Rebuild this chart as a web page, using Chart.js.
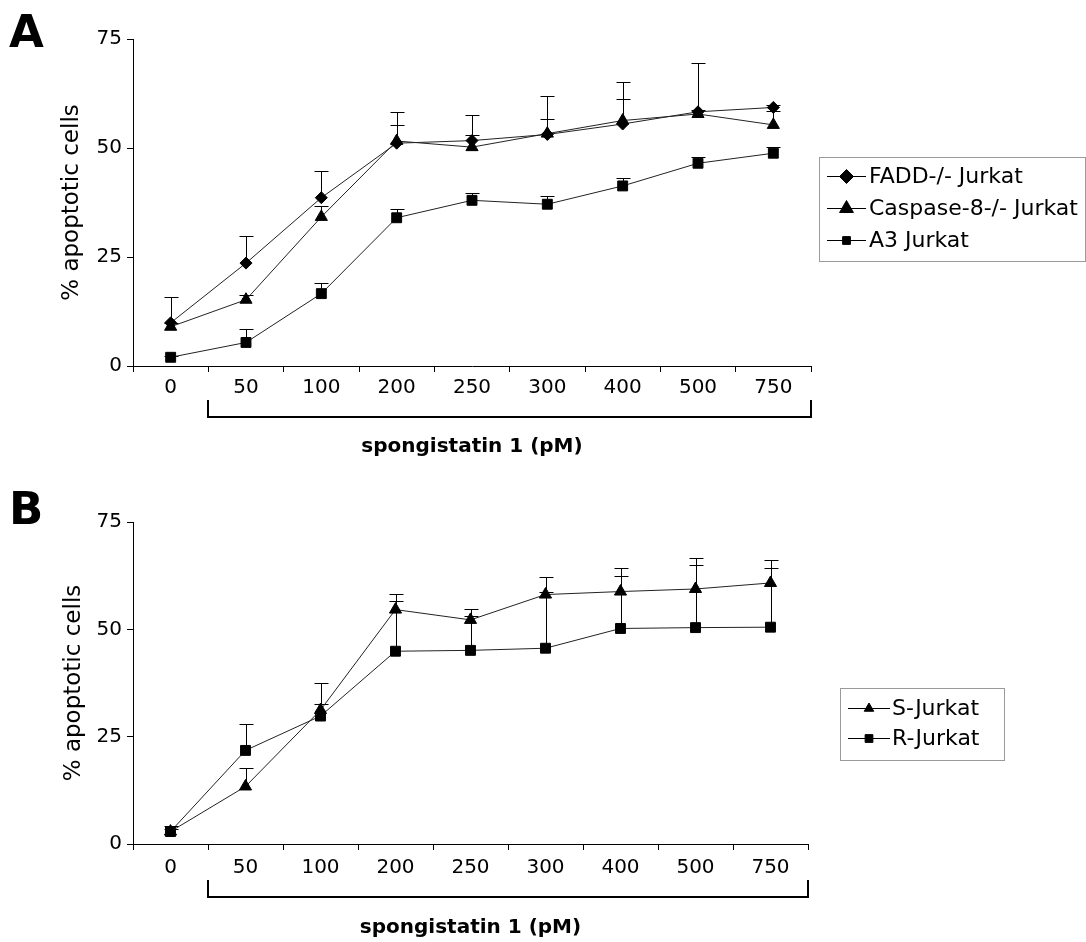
<!DOCTYPE html>
<html>
<head>
<meta charset="utf-8">
<script src="https://cdn.jsdelivr.net/npm/chart.js@4/dist/chart.umd.min.js"></script>
<style>
  body { margin: 0; background: #fff; }
  #wrap { position: relative; width: 1086px; height: 942px; overflow: hidden; }
  canvas { position: absolute; left: 0; }
  .letter { position: absolute; left: 9px; font: bold 45px "DejaVu Sans", sans-serif; color: #000; z-index: 2; }
</style>
</head>
<body>
<div id="wrap">
  <canvas id="chartA" width="1086" height="470" style="top:0"></canvas>
  <canvas id="chartB" width="1086" height="462" style="top:480px"></canvas>
  <div class="letter" style="top:5px">A</div>
  <div class="letter" style="top:482px">B</div>
</div>
<script>
const doses = ["0", "50", "100", "200", "250", "300", "400", "500", "750"];
const yTickValues = [0, 25, 50, 75];

// panel A: % apoptotic cells (mean and upper SD)
const faddMean = [9.9, 23.6, 38.6, 51.1, 51.7, 53.1, 55.5, 58.3, 59.3];
const faddErr = [5.9, 6.3, 6.1, 7.1, 5.9, 8.8, 9.7, 11.3, 0.6];
const casp8Mean = [9.0, 15.2, 34.2, 51.6, 50.2, 53.3, 56.3, 57.8, 55.3];
const casp8Err = [0.8, 1.0, 2.6, 3.6, 2.8, 3.3, 4.9, 0.9, 3.2];
const a3Mean = [2.0, 5.4, 16.6, 34.0, 38.0, 37.1, 41.3, 46.5, 48.8];
const a3Err = [0.3, 3.0, 2.5, 2.0, 1.7, 1.8, 1.8, 1.4, 1.4];

// panel B
const sMean = [2.9, 13.4, 31.2, 54.6, 52.2, 58.1, 58.8, 59.4, 60.8];
const sErr = [0.5, 4.3, 6.3, 3.7, 2.6, 4.1, 5.6, 7.1, 5.3];
const rMean = [2.9, 21.8, 29.8, 44.9, 45.1, 45.6, 50.2, 50.4, 50.5];
const rErr = [1.2, 6.2, 2.8, 11.6, 8.1, 13.2, 12.2, 14.5, 13.8];

const FONT = "'DejaVu Sans', sans-serif";
Chart.defaults.font.family = FONT;
Chart.defaults.color = "#000";

// upward error bars with a cap, drawn under the markers
const errorBars = {
  id: "errorBars",
  beforeDatasetsDraw(chart) {
    const ctx = chart.ctx;
    const y = chart.scales.y;
    ctx.save();
    ctx.strokeStyle = "#000";
    ctx.lineWidth = 1;
    chart.data.datasets.forEach((ds, i) => {
      if (!ds.errors) return;
      chart.getDatasetMeta(i).data.forEach((pt, j) => {
        const x = Math.round(pt.x) + 0.5;
        const top = Math.round(y.getPixelForValue(ds.data[j] + ds.errors[j])) + 0.5;
        ctx.beginPath();
        ctx.moveTo(x, pt.y);
        ctx.lineTo(x, top);
        ctx.moveTo(x - 7, top);
        ctx.lineTo(x + 7, top);
        ctx.stroke();
      });
    });
    ctx.restore();
  },
};

// bracket under the spongistatin doses
const doseBracket = {
  id: "doseBracket",
  afterDraw(chart, args, opts) {
    const ctx = chart.ctx;
    const x = chart.scales.x;
    const half = (x.getPixelForValue(1) - x.getPixelForValue(0)) / 2;
    const left = Math.round(x.getPixelForValue(opts.from) - half);
    const right = Math.round(chart.chartArea.right);
    const top = chart.chartArea.bottom + opts.top;
    const bottom = chart.chartArea.bottom + opts.bottom;
    ctx.save();
    ctx.strokeStyle = "#000";
    ctx.lineWidth = 2;
    ctx.beginPath();
    ctx.moveTo(left, top);
    ctx.lineTo(left, bottom);
    ctx.lineTo(right, bottom);
    ctx.lineTo(right, top);
    ctx.stroke();
    ctx.restore();
  },
};

// boxed legend with a line sample through each marker
const boxLegend = {
  id: "boxLegend",
  afterDraw(chart, args, o) {
    const ctx = chart.ctx;
    ctx.save();
    ctx.strokeStyle = "#9a9a9a";
    ctx.lineWidth = 1;
    ctx.strokeRect(o.left + 0.5, o.top + 0.5, o.width, o.height);
    ctx.font = o.fontSize + "px " + FONT;
    ctx.textBaseline = "middle";
    ctx.textAlign = "left";
    chart.data.datasets.forEach((ds, i) => {
      const cy = Math.round(o.top + o.firstRow + i * o.rowGap) + 0.5;
      ctx.strokeStyle = "#000";
      ctx.fillStyle = "#000";
      ctx.lineWidth = 1;
      ctx.beginPath();
      ctx.moveTo(o.lineX, cy);
      ctx.lineTo(o.lineX + o.lineLen, cy);
      ctx.stroke();
      Chart.helpers.drawPoint(ctx, {
        pointStyle: ds.pointStyle, radius: ds.legendRadius, rotation: 0, borderWidth: 1,
      }, o.lineX + o.lineLen / 2, cy);
      ctx.fillText(ds.label, o.textX, cy + 1);
    });
    ctx.restore();
  },
};

function series(label, data, errors, style, radius, legendRadius) {
  return {
    label, data, errors,
    pointStyle: style,
    pointRadius: radius,
    legendRadius,
    borderColor: "#222",
    borderWidth: 1,
    pointBackgroundColor: "#000",
    pointBorderColor: "#000",
    pointBorderWidth: 1,
    tension: 0,
  };
}

function panelOptions(p) {
  return {
    responsive: false,
    animation: false,
    layout: { padding: { top: p.top, right: p.right, left: 0, bottom: 0 } },
    plugins: {
      legend: { display: false },
      tooltip: { enabled: false },
      boxLegend: p.legend,
      doseBracket: { from: 1, top: p.bracketTop, bottom: p.bracketBottom },
    },
    scales: {
      x: {
        offset: true,
        grid: { offset: true, drawOnChartArea: false, drawTicks: true, tickLength: 6, color: "#000" },
        border: { color: "#000", width: 1 },
        ticks: { color: "#000", font: { size: 20 }, padding: p.tickPad, maxRotation: 0, autoSkip: false },
        title: {
          display: true, text: "spongistatin 1 (pM)", color: "#000",
          font: { size: 20, weight: "bold" }, padding: { top: 0, bottom: p.titlePad },
        },
        afterFit: (s) => { s.height = p.xHeight; },
      },
      y: {
        min: yTickValues[0],
        max: yTickValues[yTickValues.length - 1],
        afterBuildTicks: (s) => { s.ticks = yTickValues.map((v) => ({ value: v })); },
        grid: { drawOnChartArea: false, drawTicks: true, tickLength: 6, color: "#000" },
        border: { color: "#000", width: 1 },
        ticks: { color: "#000", font: { size: 20 }, padding: 5 },
        title: {
          display: true, text: "% apoptotic cells", color: "#000",
          font: { size: 23 }, padding: { top: p.yTitlePad, bottom: 0 },
        },
        afterFit: (s) => { s.width = 133; },
      },
    },
  };
}

new Chart(document.getElementById("chartA"), {
  type: "line",
  data: {
    labels: doses,
    datasets: [
      series("FADD-/- Jurkat", faddMean, faddErr, "rectRot", 6, 7),
      series("Caspase-8-/- Jurkat", casp8Mean, casp8Err, "triangle", 7, 8),
      series("A3 Jurkat", a3Mean, a3Err, "rect", 7, 5.5),
    ],
  },
  options: panelOptions({
    top: 39, right: 275, xHeight: 104, tickPad: 4, titlePad: 11, yTitlePad: 58,
    bracketTop: 34, bracketBottom: 51,
    legend: { left: 819, top: 157, width: 266, height: 104, firstRow: 19, rowGap: 32,
      lineX: 827, lineLen: 39, textX: 869, fontSize: 22 },
  }),
  plugins: [errorBars, doseBracket, boxLegend],
});

new Chart(document.getElementById("chartB"), {
  type: "line",
  data: {
    labels: doses,
    datasets: [
      series("S-Jurkat", sMean, sErr, "triangle", 7, 5.5),
      series("R-Jurkat", rMean, rErr, "rect", 7, 5.5),
    ],
  },
  options: panelOptions({
    top: 42, right: 278, xHeight: 98, tickPad: 6, titlePad: 2, yTitlePad: 60,
    bracketTop: 36, bracketBottom: 53,
    legend: { left: 840, top: 208, width: 164, height: 72, firstRow: 19.5, rowGap: 30,
      lineX: 848, lineLen: 42, textX: 892, fontSize: 22 },
  }),
  plugins: [errorBars, doseBracket, boxLegend],
});
</script>
</body>
</html>
